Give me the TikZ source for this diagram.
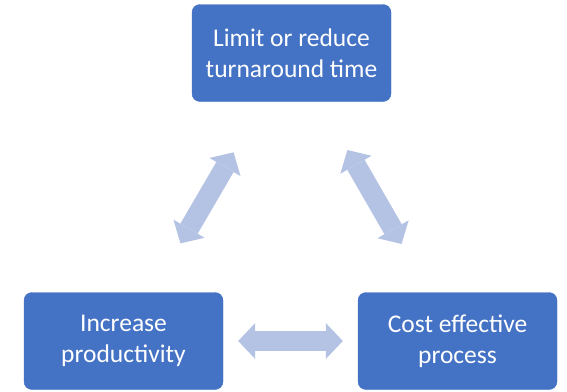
\documentclass[tikz,border=0pt]{standalone}
\usepackage{fontspec}
\setmainfont{Carlito}
\usetikzlibrary{arrows.meta}
\definecolor{boxblue}{HTML}{4472C4}
\definecolor{arrowblue}{HTML}{B4C2E3}
\tikzset{
  goalbox/.style={fill=boxblue, draw=boxblue, rounded corners=8pt, minimum width=199pt, minimum height=97pt, align=center, text=white, font=\fontsize{25.5}{30.5}\selectfont},
  link/.style={draw=arrowblue, line width=20pt, {Triangle[length=17pt,width=36pt,line width=0pt]}-{Triangle[length=17pt,width=36pt,line width=0pt]}}
}

\begin{document}
\begin{tikzpicture}[x=1pt, y=1pt]
		%%%%% START %%%%%
		
		\useasboundingbox (0, 0) rectangle (567, -391);
		
		\node[goalbox] (time) at (291.5, -53) {Limit or reduce\\turnaround time};
		\node[goalbox] (prod) at (123.5, -341) {Increase\\productivity};
		\node[goalbox] (cost) at (457.5, -341) {Cost effective\\process};
		
		\draw[link, shorten <=113pt, shorten >=115pt] (prod.center) -- (time.center);
		\draw[link, shorten <=112pt, shorten >=112pt] (cost.center) -- (time.center);
		\draw[link, shorten <=15pt, shorten >=15pt] (prod.east) -- (cost.west);
		
		%%%%% END %%%%%
	\end{tikzpicture}
\end{document}
